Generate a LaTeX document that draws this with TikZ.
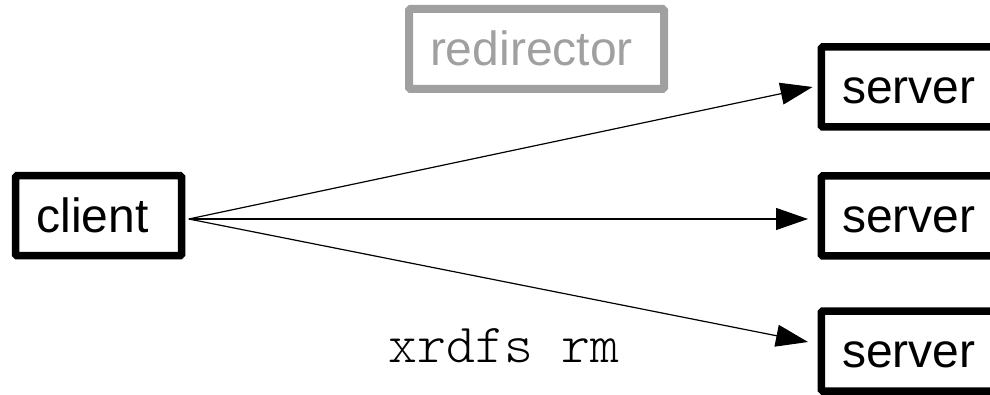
\documentclass[tikz,border=0pt]{standalone}
\usepackage{fontspec}
\setmainfont{Liberation Sans}
\newfontfamily\cmdfont{Latin Modern Mono Light}
\usetikzlibrary{arrows.meta,calc}
\definecolor{redir}{RGB}{160,160,160}
\begin{document}
\begin{tikzpicture}[x=1pt,y=-1pt,
  box/.style={draw, line width=7.5pt, rounded corners=1.5pt, minimum height=80pt,
    inner ysep=0pt, inner xsep=21pt, align=left,
    font=\fontsize{48}{51}\selectfont, text height=34.5pt, text depth=1.5pt},
  conn/.style={line width=1.2pt, -{Triangle[length=32pt,width=22pt]}},
  cmd/.style={font=\cmdfont\fontsize{55}{57}\selectfont}]
\useasboundingbox (0,0) rectangle (990,395);
\clip (0,0) rectangle (990,395);
\node[box, text width=124pt] (client) at (98.5,215.75) {client};
\node[box, draw=redir, text=redir, line width=8pt, text width=213pt] (redir) at (536.5,49) {redirector};
\node[box, anchor=west, text width=200pt] (s1) at (817.5,87) {server};
\node[box, anchor=west, text width=200pt] (s2) at (817.5,216) {server};
\node[box, anchor=west, text width=200pt] (s3) at (817.5,351) {server};
\node[cmd, anchor=base] (lab) at (504,362) {xrdfs rm};
\coordinate (src) at ($(client.east)+(3.5,3.25)$);
\draw[conn] (src) -- ($(s1.west)+(-5,0)$);
\draw[conn] (src) -- ($(s2.west)+(-9.5,3)$);
\draw[conn] (src) -- ($(s3.west)+(-9.5,-9)$);
\end{tikzpicture}
\end{document}
